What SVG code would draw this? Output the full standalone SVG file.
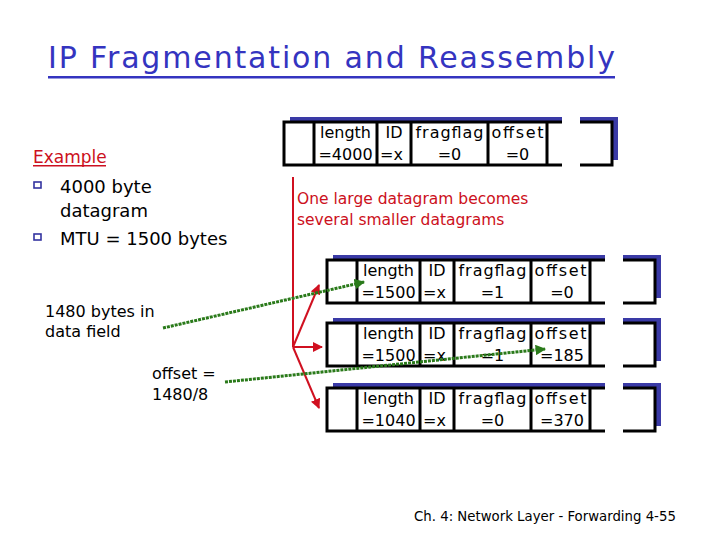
<svg xmlns="http://www.w3.org/2000/svg" width="720" height="540" viewBox="0 0 720 540">
<defs>
<style>
text{font-family:"DejaVu Sans","Liberation Sans",sans-serif;}
.title{font-size:30px;fill:#3434c0;}
.ex{font-size:17px;fill:#cc1020;}
.body{font-size:18px;fill:#000;}
.note{font-size:16px;fill:#000;}
.red{font-size:15.5px;fill:#cc1020;}
.pk{font-size:16px;fill:#000;text-anchor:middle;}
.pks{font-size:16px;fill:#000;}
.foot{font-size:13.3px;fill:#000;}
.shadow{fill:#3a3aa6;}
.box{fill:#fff;stroke:#000;stroke-width:3;}
.div{stroke:#000;stroke-width:3;}
.gap{fill:#fff;}
.rl{stroke:#d01020;stroke-width:2;fill:none;}
.gl{stroke:#2a7a1a;stroke-width:3;fill:none;stroke-dasharray:3 1;}
.bul{fill:none;stroke:#3434a0;stroke-width:1.6;}
</style>
<marker id="ra" viewBox="0 0 10 10" refX="9" refY="5" markerWidth="5" markerHeight="5" orient="auto" markerUnits="strokeWidth"><path d="M0,0 L10,5 L0,10 z" fill="#d01020"/></marker>
<marker id="ga" viewBox="0 0 10 10" refX="9" refY="5" markerWidth="3.5" markerHeight="3.5" orient="auto" markerUnits="strokeWidth"><path d="M0,0 L10,5 L0,10 z" fill="#2a7a1a"/></marker>
<g id="pkt">
<rect class="shadow" x="6" y="-5" width="328" height="43"/>
<rect class="box" x="0" y="0" width="328" height="43"/>
<path class="div" d="M30,0V43M93,0V43M127,0V43M204,0V43M263,0V43"/>
<rect class="gap" x="278" y="-9" width="18" height="56"/>
<text class="pk" x="61.5" y="16">length</text>
<text class="pk" x="110" y="16">ID</text>
<text class="pk" x="165.5" y="16" textLength="68" lengthAdjust="spacing">fragflag</text>
<text class="pk" x="233.5" y="16" textLength="52" lengthAdjust="spacing">offset</text>
</g>
</defs>

<g id="title">
<text class="title" x="48" y="68" textLength="567" lengthAdjust="spacing">IP Fragmentation and Reassembly</text>
<rect x="48" y="76" width="567" height="2.5" fill="#3434c0"/>
</g>

<g id="example">
<text class="ex" x="33" y="163">Example</text>
<rect x="33" y="165" width="73" height="1.5" fill="#cc1020"/>
<rect class="bul" x="34" y="182" width="7" height="6"/>
<text class="body" x="60" y="193">4000 byte</text>
<text class="body" x="60" y="217">datagram</text>
<rect class="bul" x="34" y="234" width="7" height="6"/>
<text class="body" x="60" y="245">MTU = 1500 bytes</text>
</g>

<g id="original">
<use href="#pkt" x="284" y="122"/>
<text class="pk" x="345.5" y="160">=4000</text>
<text class="pks" x="380" y="160">=x</text>
<text class="pk" x="449.5" y="160">=0</text>
<text class="pk" x="517.5" y="160">=0</text>
</g>

<g id="caption">
<text class="red" x="297" y="204">One large datagram becomes</text>
<text class="red" x="297" y="225">several smaller datagrams</text>
</g>

<g id="frag1">
<use href="#pkt" x="327" y="260"/>
<text class="pk" x="388.5" y="298">=1500</text>
<text class="pks" x="423" y="298">=x</text>
<text class="pk" x="492.5" y="298">=1</text>
<text class="pk" x="562" y="298">=0</text>
</g>

<g id="frag2">
<use href="#pkt" x="327" y="323"/>
<text class="pk" x="388.5" y="361">=1500</text>
<text class="pks" x="423" y="361">=x</text>
<text class="pk" x="492.5" y="361">=1</text>
<text class="pk" x="562" y="361">=185</text>
</g>

<g id="frag3">
<use href="#pkt" x="327" y="388"/>
<text class="pk" x="388.5" y="426">=1040</text>
<text class="pks" x="423" y="426">=x</text>
<text class="pk" x="492.5" y="426">=0</text>
<text class="pk" x="562" y="426">=370</text>
</g>

<g id="note1">
<text class="note" x="45" y="317">1480 bytes in</text>
<text class="note" x="45" y="337">data field</text>
</g>

<g id="note2">
<text class="note" x="152" y="379">offset =</text>
<text class="note" x="152" y="400">1480/8</text>
</g>

<g id="connectors">
<path class="rl" d="M293,177V347"/>
<path class="rl" d="M293,347L319,285" marker-end="url(#ra)"/>
<path class="rl" d="M293,347H322" marker-end="url(#ra)"/>
<path class="rl" d="M293,347L319,408" marker-end="url(#ra)"/>
<path class="gl" d="M163,328L364,282" marker-end="url(#ga)"/>
<path class="gl" d="M225,382L545,349" marker-end="url(#ga)"/>
</g>

<g id="footer">
<text class="foot" x="414" y="521">Ch. 4: Network Layer - Forwarding  4-55</text>
</g>
</svg>
